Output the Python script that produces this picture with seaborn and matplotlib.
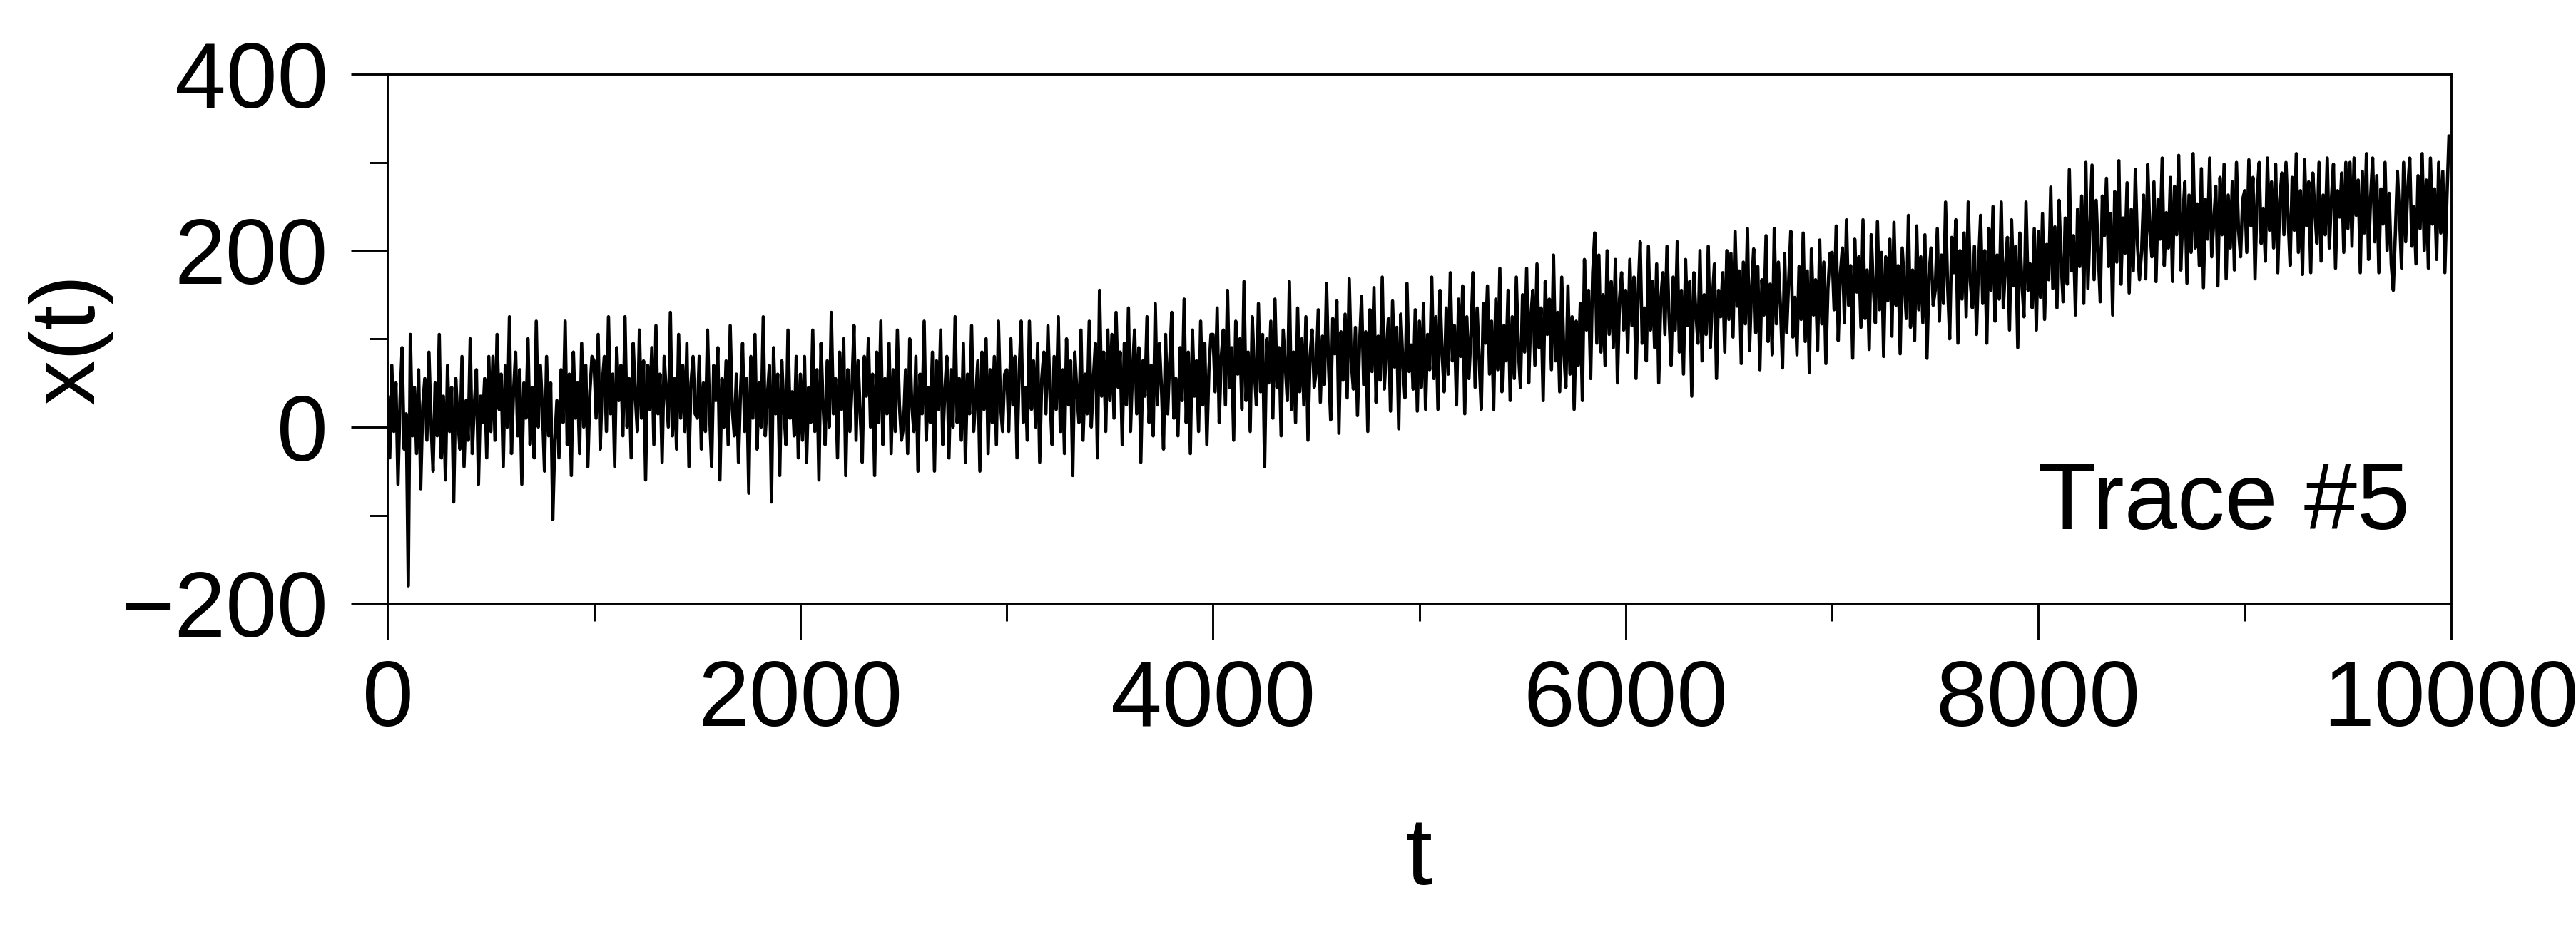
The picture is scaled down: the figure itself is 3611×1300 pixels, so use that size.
import numpy as np
import pandas as pd
import matplotlib
matplotlib.use("Agg")
import matplotlib.pyplot as plt
import seaborn as sns
from matplotlib.ticker import MultipleLocator

# ---- data: trace values, one block per 500 time units (step 10) ----
b00 = [35, -35, 70, -5, 50, -65, 30, 90, -25, 15, -180, 105, -10, 45, -30, 65, -70, 25, 55, -15, 85, 5, -50, 50, -10, 105, -35, 35, -60, 70, -5, 45, -85, 55, 10, -25, 80, -45, 30, -15, 100, -30, 25, 65, -65, 35, 5, 55, -35, 80]
b01 = [-5, 80, -15, 105, 20, 60, -45, 70, 0, 125, -30, 40, 85, -10, 65, -65, 50, 10, 100, -20, 45, -35, 120, 0, 70, 20, -50, 80, -10, 50, -105, -15, 30, -35, 65, 5, 120, -20, 60, -55, 85, 10, 50, -30, 95, 0, 70, -45, 40, 80]
b02 = [75, 10, 105, -25, 50, 80, -5, 125, 15, 60, -45, 90, 30, 70, -10, 125, 0, 55, -35, 95, 35, -5, 110, 10, 75, -60, 70, 20, 90, -20, 115, 15, 60, -40, 80, 40, 0, 130, -10, 55, -25, 105, 10, 70, -5, 95, -45, 50, 80, 15]
b03 = [10, 80, -25, 50, -5, 110, 15, -45, 70, 30, 90, -60, 55, 0, 75, -20, 115, 20, -10, 60, -40, 40, 95, -5, 55, -75, 80, 10, 105, -25, 50, 0, 125, -10, 35, 70, -85, 90, 15, 60, -55, 75, 20, -20, 110, 10, 40, -10, 80, -35]
b04 = [60, -15, 80, -40, 45, 5, 110, -5, 65, -60, 95, 25, -20, 75, 0, 130, 15, 55, -35, 85, 20, 100, -55, 65, -5, 45, 115, -15, 75, 15, -40, 80, 35, 100, 0, 60, -55, 85, 5, 120, -20, 55, 15, 95, -30, 65, -5, 110, 25, -15]
b05 = [0, 65, -30, 100, 25, -5, 80, -50, 60, 15, 120, -15, 45, 5, 85, -50, 75, 20, 110, -20, 40, 80, -35, 65, 0, 125, 5, 55, -15, 95, -40, 60, 15, 115, -5, 35, 75, -50, 85, 20, 100, -30, 65, 5, 80, -20, 120, 25, -5, 60]
b06 = [65, -5, 100, 25, 80, -35, 60, 120, 5, 45, -15, 120, 20, 75, 0, 95, -40, 55, 85, 15, 115, 35, -20, 80, 20, 125, -5, 65, -30, 100, 25, 75, -55, 85, 40, 5, 110, -15, 60, 15, 120, 0, 55, 95, -35, 155, 35, 85, -5, 110]
b07 = [30, 105, 10, 130, 45, 85, -20, 95, 25, 135, -5, 65, 110, 15, 90, -40, 75, 35, 125, 5, 70, -10, 140, 25, 95, 45, -25, 105, 15, 75, 130, 10, 55, -10, 90, 30, 145, 5, 85, -30, 110, 35, 75, -5, 120, 25, 95, -20, 65, 105]
b08 = [105, 40, 135, 5, 80, 110, 25, 155, 45, 90, -15, 120, 60, 100, 20, 165, 30, 85, -5, 125, 65, 25, 140, 40, 105, -45, 100, 50, 120, 10, 145, 45, 90, -10, 110, 70, 30, 165, 20, 85, 5, 135, 40, 100, 25, 125, -15, 80, 110, 45]
b09 = [63, 133, 28, 103, 48, 163, 68, 8, 123, 83, 143, -7, 108, 53, 128, 33, 168, 73, 43, 113, 13, 93, 148, 48, 108, -5, 133, 63, 158, 28, 103, 53, 170, 43, 88, 123, 18, 143, 68, 113, -2, 128, 73, 33, 163, 63, 93, 43, 133, 18]
b10 = [120, 45, 140, 20, 105, 65, 170, 55, 125, 20, 155, 85, 40, 135, 60, 175, 75, 115, 25, 145, 80, 160, 15, 125, 55, 105, 175, 45, 135, 75, 20, 140, 95, 160, 60, 120, 20, 145, 65, 180, 40, 115, 75, 155, 30, 125, 55, 170, 85, 45]
b11 = [150, 85, 180, 50, 125, 155, 70, 185, 90, 135, 30, 165, 105, 145, 65, 195, 75, 130, 40, 170, 85, 45, 160, 60, 125, 20, 120, 70, 140, 30, 190, 110, 155, 55, 175, 220, 95, 195, 85, 150, 70, 200, 105, 165, 90, 190, 50, 145, 175, 110]
b12 = [155, 85, 190, 115, 170, 55, 150, 210, 95, 135, 75, 205, 110, 165, 90, 185, 50, 145, 175, 105, 205, 125, 70, 170, 110, 210, 85, 155, 60, 190, 115, 165, 35, 175, 130, 95, 200, 75, 150, 105, 205, 90, 145, 185, 55, 155, 125, 175, 85, 200]
b13 = [122, 197, 102, 222, 137, 177, 72, 187, 117, 225, 87, 157, 202, 107, 182, 65, 167, 127, 217, 97, 162, 82, 225, 117, 187, 137, 67, 197, 107, 167, 222, 102, 147, 82, 182, 122, 220, 97, 177, 62, 202, 127, 167, 87, 212, 117, 187, 72, 157, 197]
b14 = [198, 133, 228, 98, 173, 203, 118, 235, 138, 183, 78, 213, 153, 193, 113, 235, 123, 178, 88, 218, 158, 118, 233, 133, 198, 80, 193, 143, 213, 103, 232, 138, 183, 83, 203, 163, 123, 240, 113, 178, 98, 228, 133, 193, 118, 218, 78, 173, 203, 138]
b15 = [155, 225, 120, 195, 140, 255, 160, 100, 215, 175, 235, 95, 200, 145, 220, 125, 255, 165, 135, 205, 105, 185, 240, 140, 200, 95, 225, 155, 250, 120, 195, 145, 255, 135, 180, 215, 110, 235, 160, 205, 90, 220, 165, 125, 255, 155, 185, 135, 225, 110]
b16 = [222, 147, 242, 122, 207, 167, 272, 157, 227, 135, 257, 187, 142, 237, 162, 292, 177, 217, 127, 247, 182, 262, 140, 300, 157, 227, 297, 167, 257, 197, 142, 262, 217, 282, 182, 242, 127, 267, 187, 302, 162, 237, 197, 277, 152, 247, 177, 292, 207, 167]
b17 = [198, 263, 168, 298, 223, 193, 278, 165, 258, 213, 305, 183, 243, 203, 283, 165, 273, 218, 308, 178, 238, 278, 163, 263, 198, 310, 203, 253, 183, 293, 158, 258, 213, 305, 193, 233, 273, 160, 283, 218, 298, 168, 263, 203, 278, 178, 300, 223, 193, 258]
b18 = [268, 198, 303, 228, 283, 168, 263, 300, 208, 248, 188, 305, 223, 278, 203, 298, 175, 258, 288, 218, 300, 238, 183, 283, 223, 310, 198, 268, 173, 303, 228, 278, 175, 288, 243, 208, 300, 188, 263, 218, 305, 203, 258, 298, 180, 268, 238, 288, 198, 300]
b19 = [225, 300, 205, 305, 240, 280, 175, 290, 220, 310, 190, 260, 305, 210, 285, 175, 270, 230, 300, 200, 265, 185, 155, 220, 290, 240, 180, 300, 210, 270, 305, 205, 250, 185, 285, 225, 310, 200, 280, 180, 305, 230, 270, 190, 300, 220, 290, 175, 260, 330]

blocks = [b00, b01, b02, b03, b04, b05, b06, b07, b08, b09,
          b10, b11, b12, b13, b14, b15, b16, b17, b18, b19]
t_step = 10

x_ticks = [0, 2000, 4000, 6000, 8000, 10000]
x_tick_labels = ["0", "2000", "4000", "6000", "8000", "10000"]
y_ticks = [-200, 0, 200, 400]
y_tick_labels = ["\u2212200", "0", "200", "400"]
annotation = "Trace #5"
x_label = "t"
y_label = "x(t)"

values = np.concatenate([np.asarray(b, dtype=float) for b in blocks])
t = np.arange(len(values)) * t_step
df = pd.DataFrame({"t": t, "x": values})

# ---- style ----
sns.set_theme(style="ticks")
plt.rcParams["font.family"] = ["Liberation Sans", "DejaVu Sans"]

fig = plt.figure(figsize=(36.11, 13.0), dpi=100)
ax = fig.add_axes([0.1505, 0.349, 0.801, 0.571])

sns.lineplot(data=df, x="t", y="x", color="black", linewidth=3.3,
             estimator=None, ax=ax)

ax.set_xlim(0, 10000)
ax.set_ylim(-200, 400)
ax.set_xticks(x_ticks)
ax.set_xticklabels(x_tick_labels)
ax.set_yticks(y_ticks)
ax.set_yticklabels(y_tick_labels)
ax.xaxis.set_minor_locator(MultipleLocator(1000))
ax.yaxis.set_minor_locator(MultipleLocator(100))

for s in ax.spines.values():
    s.set_visible(True)
    s.set_linewidth(2.1)
    s.set_color("black")

ax.tick_params(axis="both", which="major", direction="out", length=37, width=2.1,
               labelsize=93, colors="black")
ax.tick_params(axis="x", which="major", pad=19)
ax.tick_params(axis="y", which="major", pad=23)
ax.tick_params(axis="both", which="minor", direction="out", length=18, width=2.1,
               colors="black")
ax.tick_params(top=False, right=False, which="both")

ax.set_xlabel(x_label, fontsize=96, color="black")
ax.set_ylabel(y_label, fontsize=92, color="black")
ax.xaxis.set_label_coords(0.5, -0.40)
ax.yaxis.set_label_coords(-0.133, 0.5)

ax.text(0.980, 0.140, annotation, transform=ax.transAxes, ha="right", va="baseline",
        fontsize=96, color="black")

fig.savefig("out.png", dpi=100, facecolor="white")
